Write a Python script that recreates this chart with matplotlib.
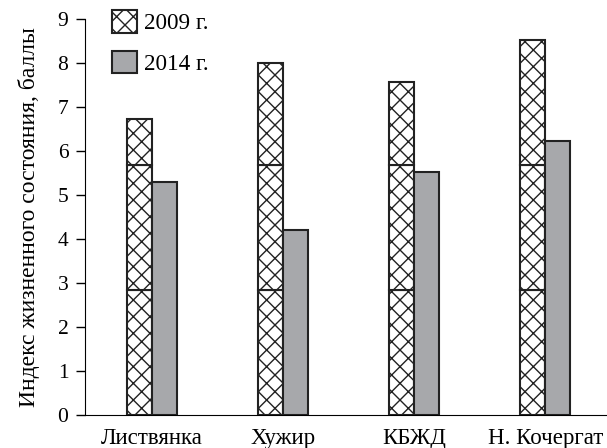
import numpy as np
import matplotlib.pyplot as plt
from matplotlib.patches import Patch

plt.rcParams['font.family'] = ['Liberation Serif', 'DejaVu Serif']
plt.rcParams['hatch.linewidth'] = 1.0

sites = ['Листвянка', 'Хужир', 'КБЖД', 'Н. Кочергат']
idx_2009 = [6.72, 8.0, 7.56, 8.53]
idx_2014 = [5.29, 4.2, 5.53, 6.22]
# horizontal division lines inside the 2009 bars
split_levels = [2.84, 5.69]

gray = '#a7a8ab'
x = np.arange(len(sites))
w = 0.19

fig = plt.figure(figsize=(6.07, 4.48), dpi=100)
ax = fig.add_axes([85 / 607, 33.3 / 448, 1 - 85 / 607, (414.7 - 19) / 448])

# 2009 bars drawn as stacked pieces so the division lines show
for i in range(len(sites)):
    edges = [0] + split_levels + [idx_2009[i]]
    for lo, hi in zip(edges[:-1], edges[1:]):
        ax.bar(x[i] - w / 2, hi - lo, w, bottom=lo, color='white',
               edgecolor='#222222', hatch='xx', linewidth=1.5)
ax.bar(x + w / 2, idx_2014, w, color=gray, edgecolor='#222222', linewidth=1.5)

ax.set_xlim(-0.51, 3.47)
ax.set_ylim(0, 9)
ax.set_yticks(range(10))
ax.set_xticks(x)
ax.set_xticklabels(sites)
ax.tick_params(axis='x', length=0, pad=9.5, labelsize=16.5)
ax.tick_params(axis='y', length=6.5, width=1, pad=5.5, labelsize=15.5)
ax.spines['top'].set_visible(False)
ax.spines['right'].set_visible(False)
ax.set_ylabel('Индекс жизненного состояния, баллы', fontsize=17)
ax.yaxis.set_label_coords(-0.086, 0.5)

handles = [Patch(facecolor='white', edgecolor='#222222', hatch='xx', linewidth=1.5),
           Patch(facecolor=gray, edgecolor='#222222', linewidth=1.5)]
ax.legend(handles, ['2009 г.', '2014 г.'], loc='upper left',
          bbox_to_anchor=(112 / 607, 1 - 10 / 448), bbox_transform=fig.transFigure,
          borderpad=0, borderaxespad=0, frameon=False, fontsize=16.7,
          handlelength=1.08, handleheight=1.12, handletextpad=0.3,
          labelspacing=0.72)

fig.savefig('out.png', dpi=100)
